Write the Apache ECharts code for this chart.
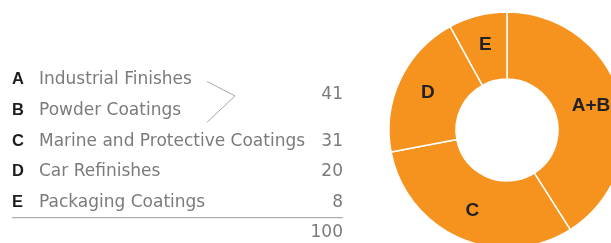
<!DOCTYPE html>
<html>
<head>
<meta charset="utf-8">
<script src="https://cdn.jsdelivr.net/npm/echarts@6/dist/echarts.min.js"></script>
<style>
html,body{margin:0;padding:0;background:#fff;}
#chart{width:611px;height:243px;}
</style>
</head>
<body>
<div id="chart"></div>
<script>
// Data
const letters = ['A', 'B', 'C', 'D', 'E'];
const names = ['Industrial Finishes', 'Powder Coatings', 'Marine and Protective Coatings', 'Car Refinishes', 'Packaging Coatings'];
const sliceLabels = ['A+B', 'C', 'D', 'E'];
const sliceValues = [41, 31, 20, 8];
const totalLabel = '100';

const orange = '#F6921E';
const grey = '#7b7b7b';
const dark = '#1c1c1c';
const boldFont = 'Liberation Sans, Arial, Helvetica, sans-serif';
const textFont = 'DejaVu Sans, Verdana, sans-serif';

// table layout
const rowTop = 79.5;
const rowStep = 30.8;
const letterX = 12;
const nameX = 39;
const numRight = 343;
const fs = 17;

const graphic = [];
letters.forEach((l, i) => {
  const y = rowTop + i * rowStep;
  graphic.push({
    type: 'text', x: letterX, y: y, silent: true,
    style: { text: l, font: 'bold 16.5px ' + boldFont, fill: dark, verticalAlign: 'middle', textAlign: 'left' }
  });
  graphic.push({
    type: 'text', x: nameX, y: y, silent: true,
    style: { text: names[i], font: fs + 'px ' + textFont, fill: grey, verticalAlign: 'middle', textAlign: 'left' }
  });
});

// values column: A+B grouped, then C, D, E
const valueRows = [
  { y: rowTop + rowStep * 0.5, v: sliceValues[0] },
  { y: rowTop + rowStep * 2, v: sliceValues[1] },
  { y: rowTop + rowStep * 3, v: sliceValues[2] },
  { y: rowTop + rowStep * 4, v: sliceValues[3] }
];
valueRows.forEach(r => {
  graphic.push({
    type: 'text', x: numRight, y: r.y, silent: true,
    style: { text: String(r.v), font: fs + 'px ' + textFont, fill: grey, verticalAlign: 'middle', textAlign: 'right' }
  });
});
// chevron grouping A and B
graphic.push({
  type: 'polyline', silent: true,
  shape: { points: [[207, rowTop + 2], [235, rowTop + rowStep * 0.5 + 1], [207, rowTop + rowStep + 12]] },
  style: { stroke: '#a8a8a8', lineWidth: 1, fill: null }
});
// total rule
const ruleY = rowTop + rowStep * 4 + 15;
graphic.push({
  type: 'line', silent: true,
  shape: { x1: 12, y1: ruleY, x2: 343, y2: ruleY },
  style: { stroke: '#9a9a9a', lineWidth: 1 }
});
graphic.push({
  type: 'text', x: numRight, y: ruleY + 14.5, silent: true,
  style: { text: totalLabel, font: fs + 'px ' + textFont, fill: grey, verticalAlign: 'middle', textAlign: 'right' }
});

const chart = echarts.init(document.getElementById('chart'), null, { renderer: 'canvas' });
chart.setOption({
  animation: false,
  backgroundColor: '#fff',
  graphic: graphic,
  series: [{
    type: 'pie',
    center: [507, 130],
    radius: [51, 118],
    startAngle: 90,
    clockwise: true,
    avoidLabelOverlap: false,
    silent: true,
    itemStyle: { color: orange, borderColor: '#fff', borderWidth: 1.5 },
    label: {
      show: true, position: 'inside', formatter: '{b}',
      color: '#222', fontWeight: 'bold', fontSize: 19, fontFamily: boldFont
    },
    labelLine: { show: false },
    emphasis: { disabled: true },
    data: sliceLabels.map((n, i) => ({ name: n, value: sliceValues[i] }))
  }]
});
</script>
</body>
</html>
